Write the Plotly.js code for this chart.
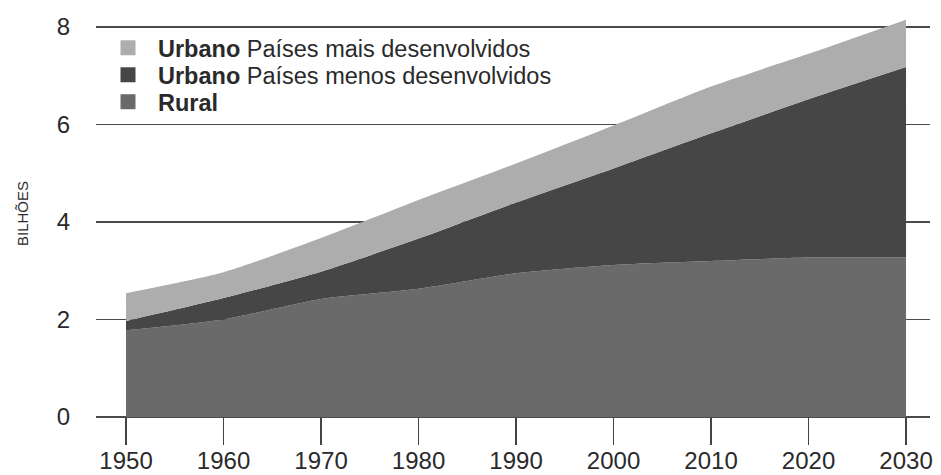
<!DOCTYPE html>
<html>
<head>
<meta charset="utf-8">
<script src="https://cdn.plot.ly/plotly-3.0.1.min.js"></script>
<style>
  html, body { margin: 0; padding: 0; background: #ffffff; }
  #chart { width: 941px; height: 475px; }
</style>
</head>
<body>
<div id="chart"></div>
<script>
// Data (billions)
const years = [1950, 1960, 1970, 1980, 1990, 2000, 2010, 2020, 2030];
const rural = [1.78, 2.00, 2.42, 2.63, 2.95, 3.12, 3.20, 3.27, 3.27];
const urbanLessDeveloped = [0.19, 0.44, 0.56, 1.03, 1.45, 1.98, 2.62, 3.25, 3.91];
const urbanMoreDeveloped = [0.57, 0.53, 0.69, 0.79, 0.80, 0.88, 0.96, 0.93, 0.97];

const yTicks = [0, 2, 4, 6, 8];
const yTitle = 'BILHÕES';
const legendNames = [
  '<b>Urbano</b> Países mais desenvolvidos',
  '<b>Urbano</b> Países menos desenvolvidos',
  '<b>Rural</b>'
];

const cRural = '#6a6a6a';
const cLess = '#464646';
const cMore = '#adadad';
const FONT = 'Liberation Sans, Arial, Helvetica, sans-serif';
const txt = '#2a2a2a';

function area(y, color) {
  return {
    x: years, y: y, type: 'scatter', mode: 'lines',
    stackgroup: 'pop', line: {width: 0, shape: 'spline', smoothing: 0.6},
    fillcolor: color, showlegend: false, hoverinfo: 'skip'
  };
}
function legendItem(name, color, legendId) {
  return {
    x: [null], y: [null], type: 'scatter', mode: 'markers', name: name,
    legend: legendId,
    marker: {symbol: 'square', size: 15, color: color}, hoverinfo: 'skip'
  };
}

const data = [
  area(rural, cRural),
  area(urbanLessDeveloped, cLess),
  area(urbanMoreDeveloped, cMore),
  legendItem(legendNames[0], cMore, 'legend'),
  legendItem(legendNames[1], cLess, 'legend2'),
  legendItem(legendNames[2], cRural, 'legend3')
];

function legendBox(y) {
  return {
    x: 0.0024, y: y, xanchor: 'left', yanchor: 'middle',
    bgcolor: 'rgba(0,0,0,0)', borderwidth: 0,
    font: {family: FONT, size: 23.5, color: txt},
    itemwidth: 50
  };
}

const layout = {
  width: 941, height: 475,
  margin: {l: 96, r: 11, t: 10, b: 58},
  paper_bgcolor: '#ffffff', plot_bgcolor: '#ffffff',
  font: {family: FONT, color: txt},
  showlegend: true,
  legend: legendBox(0.9066),
  legend2: legendBox(0.8403),
  legend3: legendBox(0.7740),
  xaxis: {
    range: [1946.92, 2032.46],
    tickvals: years, ticktext: years.map(String),
    ticks: 'outside', ticklen: 27, tickwidth: 1.5, tickcolor: '#444',
    showgrid: false, zeroline: false, showline: false,
    ticklabelstandoff: -5,
    tickfont: {family: FONT, size: 24, color: txt}
  },
  yaxis: {
    range: [0, 8.35],
    tickvals: yTicks, ticktext: yTicks.map(String),
    ticks: '', showgrid: true, gridcolor: '#4a4a4a', gridwidth: 1.5,
    zeroline: true, zerolinecolor: '#4a4a4a', zerolinewidth: 1.5,
    showline: false, ticklabelstandoff: 25,
    tickfont: {family: FONT, size: 24, color: txt},
    title: {text: yTitle, standoff: 24, font: {family: FONT, size: 15, color: txt}}
  }
};

Plotly.newPlot('chart', data, layout, {displayModeBar: false, staticPlot: true});
</script>
</body>
</html>
